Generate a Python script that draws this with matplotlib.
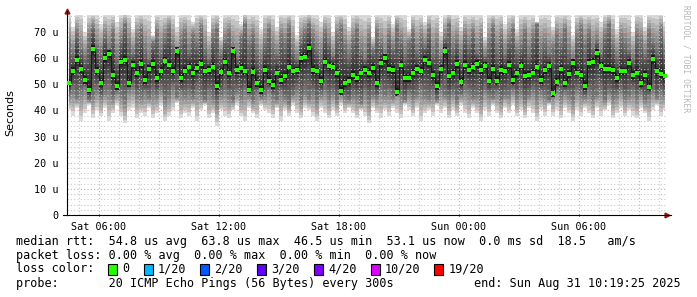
import numpy as np
import matplotlib
matplotlib.use("Agg")
import matplotlib.pyplot as plt
from matplotlib.patches import Rectangle

# median rtt (microseconds), one value per 12 minutes
median = [50.6, 55, 59.4, 56, 51.5, 48, 63.6, 55, 50.4, 60, 61.7, 53.5, 49.4, 58.7, 59.4, 50.6,
          57.4, 54.2, 57.8, 51.7, 56, 57.8, 52.3, 55, 59, 57.4, 55, 62.6, 52.3, 55, 56.8,
          54.2, 56.2, 57.7, 54.9, 55.5, 56.8, 49.4, 54.6, 58.7, 54.2, 62.6, 55.5, 56.2, 54.9,
          48, 54.6, 50.6, 47.8, 55.5, 51.3, 49.7, 54.5, 51.7, 53, 56.8, 54.9, 55.3, 60, 60.6, 63.8,
          55.5, 54.9, 51.4, 58.7, 57, 56.8, 54.2, 47.4, 50.6, 51.3, 53.6, 52.3, 54.5, 55.5, 54.2,
          56.2, 50.4, 58, 60, 55.8, 55.5, 47.2, 57.4, 52.3, 52.3, 54.2, 55.8, 55.1, 59.4, 58.3,
          53.6, 49.3, 55.8, 62.6, 53, 54.2, 57.8, 51, 57.4, 55.5, 56.5, 57.8, 55.5, 57, 51.4,
          55.8, 51.4, 55.5, 54.9, 57.4, 51.7, 54.2, 57, 53.2, 53.6, 54.5, 56.5, 51.7, 55.3, 57,
          46.5, 51, 55.8, 50.6, 53.9, 58.2, 54.5, 53.6, 49.4, 58, 58.7, 61.9, 57, 55.8, 55.8,
          55.3, 52.3, 54.9, 54.9, 58.3, 53.6, 54.5, 50.4, 53.6, 48.8, 59.6, 54.9, 53.9, 53]

# smoke: slowest ping, upper/lower edge of the dense part, fastest ping
ping_max = [77, 72, 77, 77, 70, 77, 77, 77, 73, 77, 77, 77, 74, 77, 77, 77, 71, 77, 77, 77,
            77, 69, 77, 77, 77, 77, 77, 72, 77, 77, 77, 74, 77, 77, 77, 70, 77, 77, 68, 77,
            77, 77, 77, 73, 77, 77, 77, 77, 71, 77, 77, 77, 72, 77, 77, 77, 77, 69, 77, 77,
            77, 77, 77, 74, 77, 77, 70, 77, 77, 77, 72, 77, 77, 77, 77, 77, 68, 77, 77, 77,
            77, 73, 77, 77, 77, 71, 77, 77, 77, 74, 77, 77, 77, 70, 77, 77, 77, 77, 72, 77,
            77, 77, 77, 77, 68, 77, 77, 77, 77, 73, 77, 77, 71, 77, 77, 77, 77, 74, 77, 77,
            77, 72, 77, 77, 77, 77, 69, 77, 77, 77, 77, 77, 77, 74, 77, 77, 77, 71, 77, 77,
            77, 70, 77, 77, 72, 77, 77, 77, 77, 74]
ping_hi = [66, 62, 70, 64, 61, 68, 72, 65, 63, 69, 64, 70, 61, 67, 73, 66, 62, 68, 71, 64,
           60, 66, 70, 63, 68, 72, 65, 61, 67, 70, 63, 69, 66, 72, 64, 60, 68, 71, 62, 67,
           70, 64, 61, 68, 73, 65, 69, 63, 60, 66, 71, 64, 62, 69, 66, 72, 63, 60, 67, 70,
           73, 68, 64, 62, 70, 66, 61, 69, 72, 65, 62, 67, 71, 64, 60, 68, 63, 70, 66, 61,
           69, 64, 72, 67, 62, 66, 70, 63, 68, 65, 71, 62, 66, 61, 68, 73, 64, 67, 62, 69,
           65, 70, 63, 68, 61, 66, 72, 64, 69, 62, 67, 71, 63, 65, 70, 62, 68, 73, 64, 66,
           62, 64, 69, 66, 71, 63, 60, 68, 72, 65, 70, 64, 67, 62, 69, 73, 65, 61, 68, 66,
           63, 60, 69, 67, 62, 70, 66, 64, 71, 63]
ping_lo = [46, 48, 45, 47, 49, 44, 46, 48, 45, 47, 48, 45, 47, 46, 44, 48, 49, 46, 45, 47,
           45, 47, 46, 48, 44, 46, 49, 45, 47, 46, 47, 45, 48, 46, 44, 47, 45, 43, 46, 48,
           46, 44, 47, 45, 48, 46, 44, 47, 45, 46, 48, 46, 44, 47, 45, 43, 46, 48, 44, 47,
           45, 47, 44, 46, 48, 45, 47, 44, 46, 45, 44, 46, 45, 43, 47, 44, 46, 45, 48, 46,
           47, 45, 48, 46, 44, 47, 45, 46, 48, 46, 45, 47, 44, 48, 46, 45, 47, 44, 46, 48,
           47, 45, 46, 44, 48, 46, 45, 47, 44, 46, 46, 48, 45, 47, 44, 46, 48, 45, 47, 46,
           44, 46, 48, 45, 47, 46, 44, 48, 46, 45, 47, 45, 46, 48, 44, 47, 45, 46, 48, 45,
           46, 48, 45, 47, 44, 46, 48, 45, 47, 46]
ping_min = [40, 38, 41, 36, 39, 42, 37, 40, 38, 41, 36, 39, 42, 38, 35, 40, 41, 37, 39, 38,
            41, 37, 39, 42, 36, 38, 40, 43, 37, 39, 38, 41, 36, 40, 42, 37, 39, 34, 40, 38,
            37, 40, 42, 38, 36, 41, 39, 37, 42, 40, 39, 37, 41, 36, 40, 38, 42, 39, 37, 41,
            40, 38, 36, 41, 39, 37, 40, 38, 42, 39, 41, 39, 37, 40, 38, 35, 41, 39, 37, 40,
            38, 41, 39, 37, 42, 40, 38, 41, 36, 39, 40, 38, 42, 39, 41, 37, 40, 38, 42, 39,
            37, 41, 39, 36, 40, 38, 42, 39, 37, 41, 39, 42, 38, 40, 37, 41, 39, 36, 40, 38,
            42, 38, 40, 37, 41, 39, 36, 40, 38, 41, 39, 37, 41, 38, 40, 42, 37, 39, 41, 38,
            40, 38, 37, 41, 39, 36, 40, 42, 38, 40]

# x axis in hours since Sat 00:00
t_start = 4.4
t_step = 0.2
tick_hours = [6, 12, 18, 24, 30]
tick_labels = ['Sat 06:00', 'Sat 12:00', 'Sat 18:00', 'Sun 00:00', 'Sun 06:00']
y_ticks = [0, 10, 20, 30, 40, 50, 60, 70]
y_labels = ['0', '10 u', '20 u', '30 u', '40 u', '50 u', '60 u', '70 u']

loss_names = ['0', '1/20', '2/20', '3/20', '4/20', '10/20', '19/20']
loss_colors = ['#26ff00', '#00b8ff', '#0059ff', '#5e00ff', '#7e00ff', '#dd00ff', '#ff0000']

W, H = 697, 297
fig = plt.figure(figsize=(W / 100, H / 100), dpi=100)
fig.patch.set_facecolor('white')
ax = fig.add_axes([67 / W, (H - 215) / H, 600 / W, 200 / H])

t = t_start + t_step * (np.arange(len(median)) + 0.5)
med = np.array(median)
pmax = np.array(ping_max)
phi = np.array(ping_hi)
plo = np.array(ping_lo)
pmin = np.array(ping_min)


def edge(outer, inner, f):
    # position between outer ping (f=0), dense edge (f=0.5) and median (f=1)
    if f <= 0.5:
        return outer + (inner - outer) * f / 0.5
    return inner + (med - inner) * (f - 0.5) / 0.5


# smoke, light outside to dark near the median
n = 12
for k in range(n):
    f = k / n
    grey = 0.86 - 0.68 * (k / (n - 1)) ** 0.8
    ax.fill_between(t, edge(pmin, plo, f), edge(pmax, phi, f), step='mid',
                    color=(grey, grey, grey), lw=0, zorder=1)
ax.fill_between(t, med - 1.5, med + 1.5, step='mid', color='#1a1a1a', lw=0, zorder=1)

# grid
x0, x1 = t_start, t_start + 30
ymax = 76.5
for y in np.arange(2, ymax, 2):
    if y % 10 == 0:
        ax.axhline(y, color='#e8a0a0', lw=0.8, ls=(0, (1, 2)), zorder=2)
    else:
        ax.axhline(y, color='#c8c8c8', lw=0.8, ls=(0, (1, 2)), zorder=2)
for h in range(5, 35):
    if h % 3 == 0:
        ax.axvline(h, color='#e8a0a0', lw=0.8, ls=(0, (1, 2)), zorder=2)
    else:
        ax.axvline(h, color='#c8c8c8', lw=0.8, ls=(0, (1, 2)), zorder=2)

# median
ax.step(t, med, where='mid', color='#1a1a1a', lw=0.8, zorder=3)
ax.plot(t, med, 's', color=loss_colors[0], ms=2.6, mew=0, zorder=4)

ax.set_xlim(x0, x1)
ax.set_ylim(0, ymax)
ax.set_xticks(tick_hours)
ax.set_xticklabels(tick_labels)
ax.set_yticks(y_ticks)
ax.set_yticklabels(y_labels)
for s in ['top', 'right']:
    ax.spines[s].set_visible(False)
ax.spines['left'].set_linewidth(0.8)
ax.spines['bottom'].set_linewidth(0.8)
ax.tick_params(axis='y', length=0, pad=6, labelsize=7.3)
ax.tick_params(axis='x', length=2, direction='inout', pad=4, labelsize=7.3)
for lab in ax.get_xticklabels() + ax.get_yticklabels():
    lab.set_family('DejaVu Sans Mono')

# arrows on the axes
ax.plot([1.0], [0], marker='>', color='#8b1a1a', ms=3.5, transform=ax.transAxes, clip_on=False)
ax.plot([0], [1.02], marker='^', color='#8b1a1a', ms=3.5, transform=ax.transAxes, clip_on=False)
ax.plot([1.0, 1.006], [0, 0], color='black', lw=0.8, transform=ax.transAxes, clip_on=False)
ax.plot([0, 0], [1.0, 1.02], color='black', lw=0.8, transform=ax.transAxes, clip_on=False)
ax.plot([-0.007, 0], [0, 0], color='black', lw=0.8, transform=ax.transAxes, clip_on=False)

fig.text(10 / W, 1 - 113 / H, 'Seconds', rotation=90, ha='center', va='center',
         fontsize=8, family='DejaVu Sans')
fig.text(686 / W, 1 - 5 / H, 'RRDTOOL / TOBI OETIKER', rotation=270, ha='center', va='top',
         fontsize=5.8, family='DejaVu Sans Mono', color='#b8b8b8')

# legend block, monospace columns
fs = 8.48
cw = fs * 100 / 72 * 0.602
lx = 16
mono = dict(fontsize=fs, family='DejaVu Sans Mono', va='center', ha='left')
fig.text(lx / W, 1 - 241 / H,
         'median rtt:  54.8 us avg  63.8 us max  46.5 us min  53.1 us now  0.0 ms sd  18.5   am/s',
         **mono)
fig.text(lx / W, 1 - 255 / H,
         'packet loss: 0.00 % avg  0.00 % max  0.00 % min  0.00 % now', **mono)

box_cols = [13, 18, 26, 34, 42, 50, 59]
fig.text(lx / W, 1 - 269 / H, 'loss color:', **mono)
for col, name, c in zip(box_cols, loss_names, loss_colors):
    bx = lx + col * cw
    fig.patches.append(Rectangle((bx / W, 1 - 274.5 / H), 9 / W, 11 / H, facecolor=c,
                                 edgecolor='black', lw=0.8, transform=fig.transFigure))
    fig.text((lx + (col + 2) * cw) / W, 1 - 269 / H, name, **mono)

fig.text(lx / W, 1 - 283 / H, 'probe:       20 ICMP Echo Pings (56 Bytes) every 300s', **mono)
fig.text(681 / W, 1 - 283 / H, 'end: Sun Aug 31 10:19:25 2025', **dict(mono, ha='right'))

fig.savefig('out.png', dpi=100)
